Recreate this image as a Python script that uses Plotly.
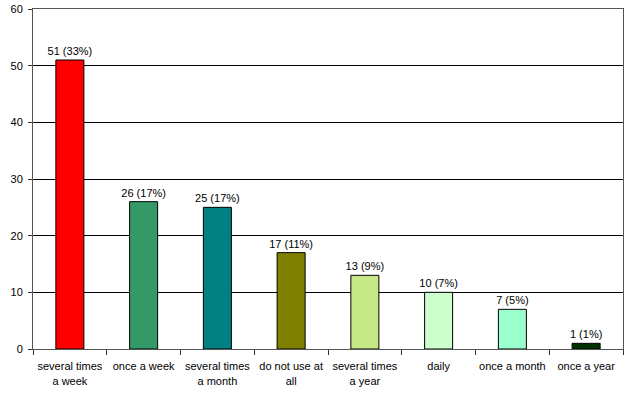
import plotly.graph_objects as go

categories = ["several times<br>a week", "once a week", "several times<br>a month",
              "do not use at<br>all", "several times<br>a year", "daily",
              "once a month", "once a year"]
values = [51, 26, 25, 17, 13, 10, 7, 1]
percents = [33, 17, 17, 11, 9, 7, 5, 1]
colors = ["#FF0000", "#339966", "#008080", "#808000", "#C6E985",
          "#CCFFCC", "#99FFCC", "#003300"]
y_ticks = [0, 10, 20, 30, 40, 50, 60]

labels = [f"{v} ({p}%)" for v, p in zip(values, percents)]

fig = go.Figure(go.Bar(
    x=categories, y=values, text=labels, textposition="outside",
    marker=dict(color=colors, line=dict(color="black", width=1)),
    textfont=dict(family="Liberation Sans, Arial", size=11, color="black"),
    cliponaxis=False, width=0.38,
))

fig.update_layout(
    width=631, height=393,
    margin=dict(l=33, r=8, t=9, b=44),
    paper_bgcolor="white", plot_bgcolor="white",
    font=dict(family="Liberation Sans, Arial", size=11, color="black"),
    showlegend=False,
    uniformtext=dict(minsize=11, mode="show"),
    xaxis=dict(tickson="boundaries", ticks="outside", ticklen=5, tickcolor="#333",
               showline=True, linecolor="#555", mirror=True, showgrid=False,
               tickangle=0, automargin=False, ticklabelstandoff=7),
    yaxis=dict(range=[0, 60], tickvals=y_ticks, ticks="outside", ticklen=4,
               tickcolor="#333", showline=True, linecolor="#555", mirror=True,
               showgrid=True, gridcolor="black", gridwidth=1, zeroline=False,
               automargin=False, ticklabelstandoff=3),
)

fig.write_html("out.html", config={"displayModeBar": False},
               post_script="document.body.style.margin='0';")
